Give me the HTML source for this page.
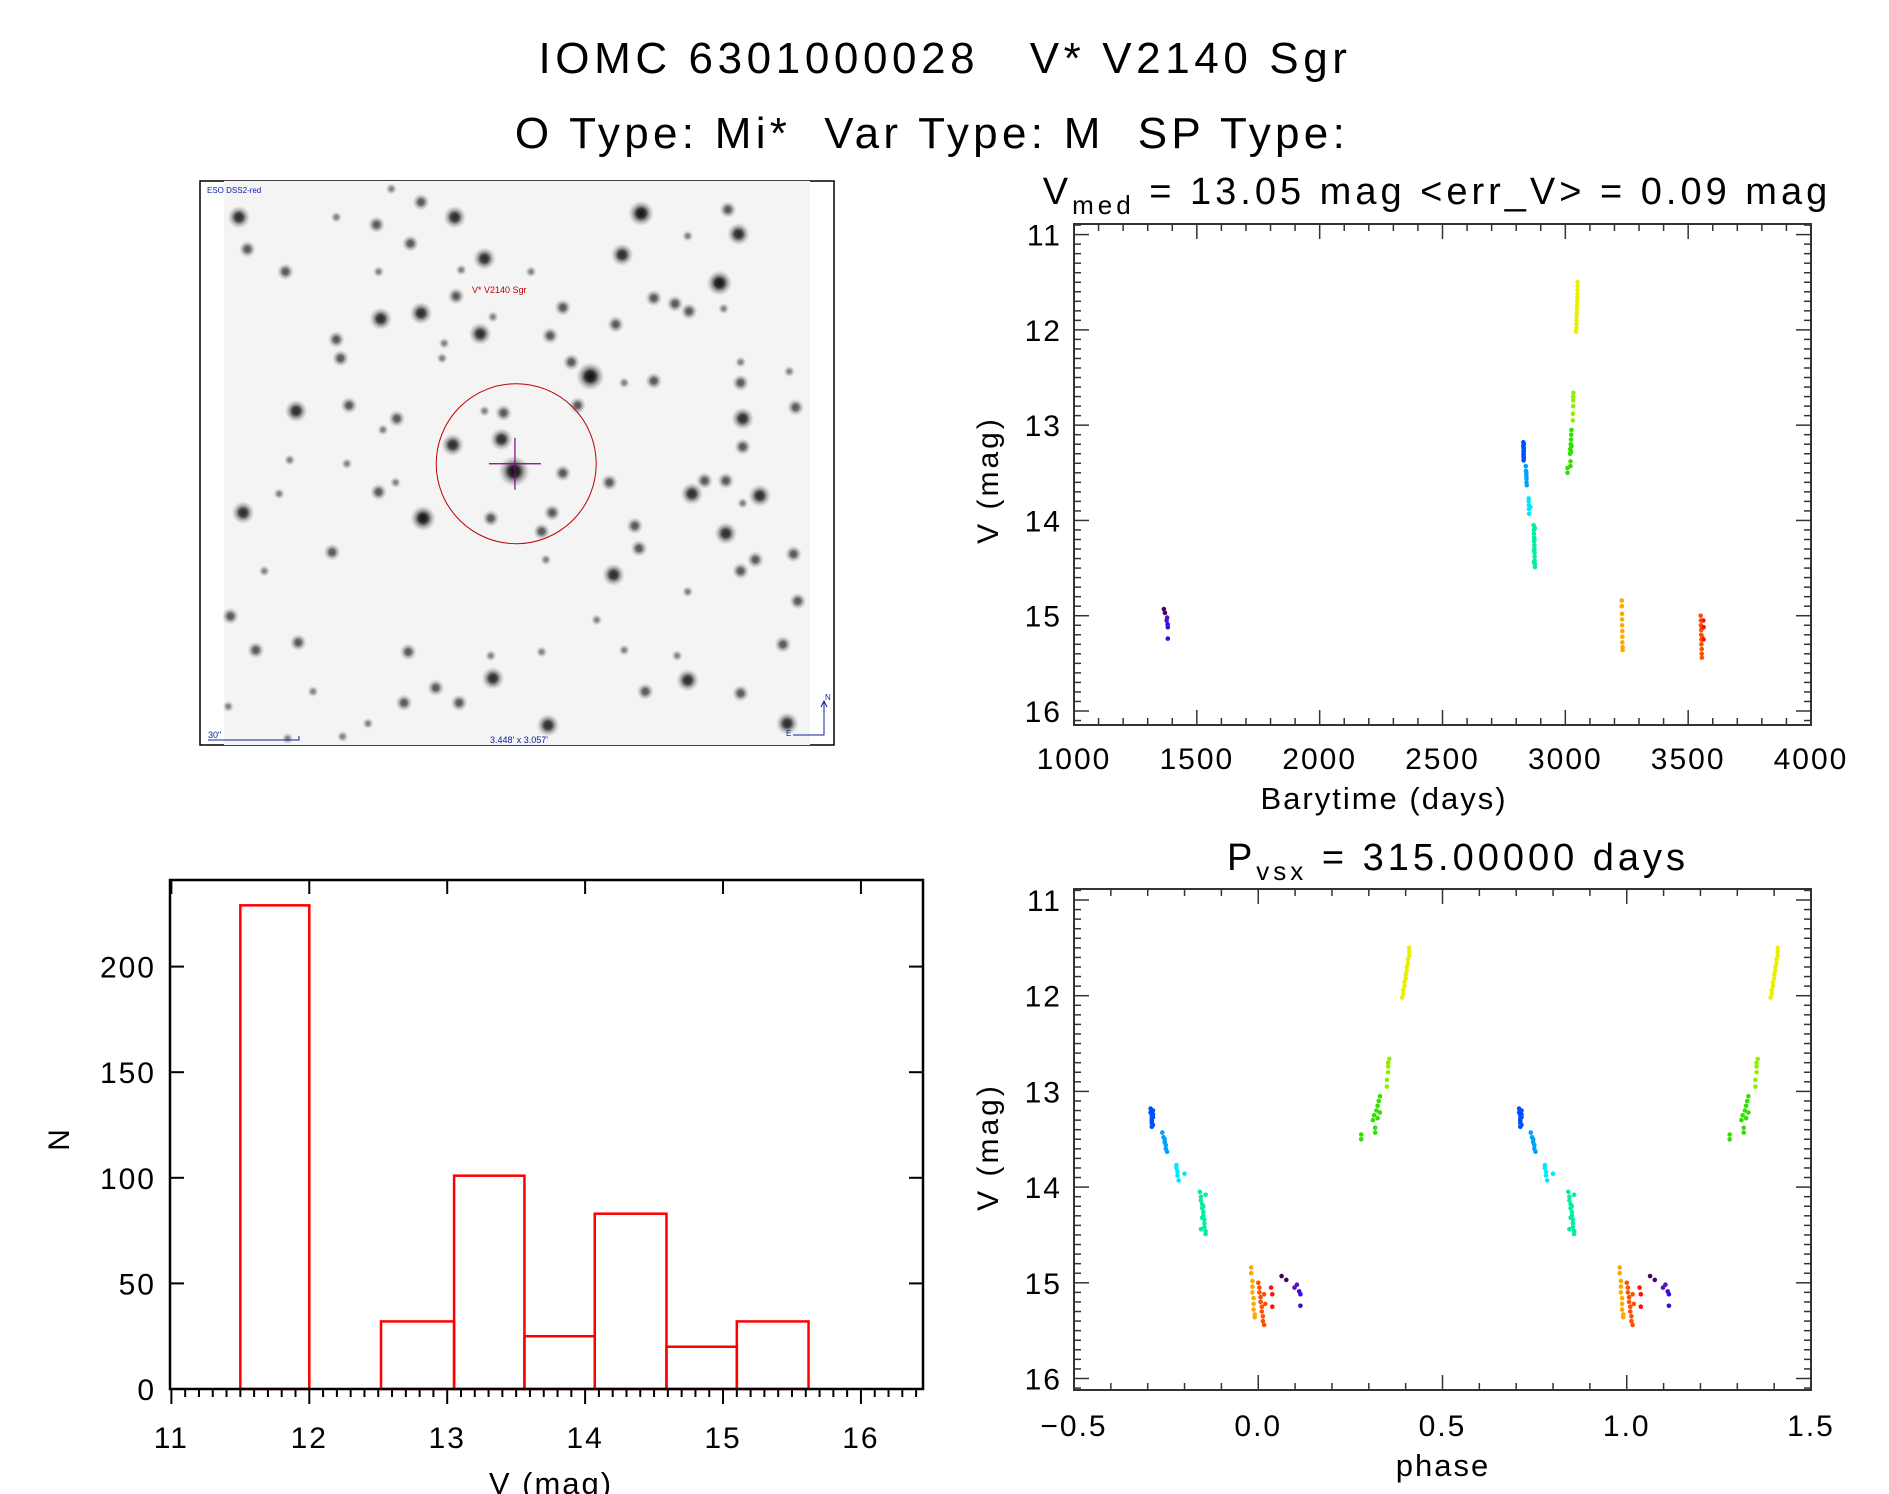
<!DOCTYPE html>
<html><head><meta charset="utf-8"><style>
html,body{margin:0;padding:0;background:#fff;}
svg{display:block;font-family:"Liberation Sans",sans-serif;}
</style></head><body>
<svg id="fig" width="1889" height="1494" viewBox="0 0 1889 1494" xmlns="http://www.w3.org/2000/svg">
<defs>
<radialGradient id="starg"><stop offset="0" stop-color="#000"/><stop offset="0.35" stop-color="#222"/><stop offset="0.7" stop-color="#777" stop-opacity="0.5"/><stop offset="1" stop-color="#999" stop-opacity="0"/></radialGradient>
</defs>
<text x="945" y="73" font-size="44" letter-spacing="4.6" text-anchor="middle" xml:space="preserve">IOMC 6301000028   V* V2140 Sgr</text>
<text x="932" y="148" font-size="44" letter-spacing="4.3" text-anchor="middle" xml:space="preserve">O Type: Mi*  Var Type: M  SP Type:</text>
<g id="img"></g>
<g id="lc"></g>
<g id="ph"></g>
<g id="hist"></g>
</svg>
<script>
// ---- light curve data (barytime days, V mag, color group) ----
const times = [1366,1370,1377,1379,1381,1382,1382,
 2829,2829,2830,2830,2830,2830,2831,2831,2831,2831,2830,2830,
 2839,2840,2841,2841,2842,2842,2843,
 2851,2851,2852,2852,2853,2858,
 2871,2872,2872,2873,2873,2874,2874,2875,2875,2875,2876,2876,2876,2874,2873,2872,
 3009,3009,3019,3020,3021,3022,3023,3024,3025,3025,3021,3023,
 3031,3031,3032,3032,3032,3033,
 3044,3045,3045,3046,3046,3047,3047,3048,3048,3049,3049,3050,3050,3050,
 3230,3230,3231,3231,3231,3232,3232,3232,3233,3233,
 3551,3552,3552,3553,3553,3554,3554,3555,3555,3556,3556,3557,3562,3563,3563];
const mags = [14.93,14.97,15.05,15.02,15.09,15.12,15.24,
 13.18,13.22,13.25,13.28,13.3,13.33,13.2,13.24,13.27,13.35,13.37,13.31,
 13.43,13.48,13.5,13.53,13.56,13.6,13.63,
 13.77,13.8,13.84,13.88,13.93,13.86,
 14.05,14.1,14.14,14.18,14.22,14.26,14.3,14.34,14.38,14.42,14.46,14.49,14.08,14.2,14.32,14.44,
 13.45,13.5,13.3,13.25,13.38,13.2,13.15,13.1,13.05,13.22,13.43,13.28,
 12.95,12.88,12.8,12.74,12.7,12.66,
 12.02,11.98,11.94,11.9,11.86,11.82,11.78,11.74,11.7,11.66,11.62,11.58,11.54,11.5,
 14.84,14.9,14.98,15.04,15.1,15.16,15.22,15.28,15.33,15.36,
 15.0,15.05,15.1,15.15,15.2,15.25,15.3,15.35,15.4,15.44,15.12,15.22,15.05,15.12,15.25];
const groups = [0,0,1,1,2,2,2,
 3,3,3,3,3,3,3,3,3,3,3,3,
 4,4,4,4,4,4,4,
 5,5,5,5,5,5,
 6,6,6,6,6,6,6,6,6,6,6,6,6,6,6,6,
 7,7,7,7,7,7,7,7,7,7,7,7,
 8,8,8,8,8,8,
 9,9,9,9,9,9,9,9,9,9,9,9,9,9,
 10,10,10,10,10,10,10,10,10,10,
 11,11,11,11,11,11,11,11,11,11,11,11,12,12,12];
const groupColors = ['#4a0060','#5a10c0','#3010e0','#0050ff','#00a0ff','#00e8ff','#00f0a0','#30e000','#90f000','#e8f000','#ffa800','#ff5000','#ff1010'];
const period = 315.0;
const epoch = 2606;
// ---- histogram data ----
const binEdges = [11.5,12.0,12.52,13.05,13.56,14.07,14.59,15.1,15.62];
const binCounts = [229,0,32,101,25,83,20,32];
const histXTicks = ['11','12','13','14','15','16'];
const histYTicks = ['0','50','100','150','200'];
const lcXTicks = ['1000','1500','2000','2500','3000','3500','4000'];
const magTicks = ['11','12','13','14','15','16'];
const phaseTicks = ['−0.5','0.0','0.5','1.0','1.5'];

const NS='http://www.w3.org/2000/svg';
function mk(parent,tag,attrs,text){const e=document.createElementNS(NS,tag);for(const k in attrs)e.setAttribute(k,attrs[k]);if(text!==undefined)e.textContent=text;parent.appendChild(e);return e;}

// ---------- finder image ----------
(function(){
 const g=document.getElementById('img');
 const sx=0.978, sy=0.99;
 const IX=xd=>200+(xd/2.31-10)*sx, IY=yd=>181+(yd/2.63-11)*sy;
 let e=mk(g,'rect',{x:200,y:181,width:634,height:564,fill:'none',stroke:'#000','stroke-width':1.5});
 
 e=mk(g,'rect',{x:224,y:181,width:586,height:564,fill:'#f4f4f4'});
 
 const stars=[[115,125,3],[135,210,2],[225,270,2],[345,125,1],[440,145,2],[475,50,1],[545,85,2],[520,195,2],[625,125,3],[695,235,3],[640,265,1],[445,270,1],[628,335,2],[545,380,3],[450,395,3],[345,450,2],[355,500,2],[685,435,3],[715,390,1],[600,460,1],[595,500,1],[880,365,2],[850,440,2],[805,270,1],[1065,115,3.5],[1270,105,2],[1295,170,3],[1020,225,3],[1175,175,1],[1250,300,3.5],[1095,340,2],[1145,355,2],[1178,375,2],[1005,410,2],[1260,368,1],[900,510,2],[945,548,4],[1025,565,1],[1095,560,2],[1300,510,1],[1300,565,2],[1415,535,1],[1430,630,2],[1305,660,3],[1305,735,2],[250,640,3],[375,625,2],[488,660,2],[455,690,1],[740,645,2],[695,640,1],[735,715,3],[620,730,3],[765,800,4.5],[880,805,2],[915,625,2],[990,830,2],[1215,825,2],[1265,825,2],[1185,860,3],[1345,865,3],[1305,885,1],[445,855,2],[485,830,1],[235,770,1],[370,780,1],[125,910,3],[210,860,1],[550,925,3.5],[710,925,2],[855,910,2],[830,960,2],[1050,945,2],[1265,965,3],[1060,1005,2],[1425,1020,2],[1335,1035,2],[1300,1065,2],[1000,1075,3],[840,1035,1],[335,1015,2],[175,1065,1],[95,1185,2],[155,1275,2],[255,1255,2],[515,1280,2],[710,1290,1],[830,1280,1],[715,1350,3],[580,1375,2],[1025,1275,1],[1150,1290,1],[1175,1355,3],[1400,1260,2],[1435,1145,2],[1175,1120,1],[960,1195,1],[1075,1385,2],[1300,1390,2],[1410,1470,3],[845,1475,3],[635,1415,2],[505,1415,2],[420,1470,1],[90,1425,1],[290,1385,1],[360,1505,1],[230,1510,1]];
 stars.forEach(s=>{
  const c=mk(g,'circle',{cx:IX(s[0]).toFixed(1),cy:IY(s[1]).toFixed(1),r:(s[2]*2.8+3).toFixed(1),fill:'url(#starg)',opacity:Math.min(0.95,0.3+s[2]*0.18)});
  
  
 });
 e=mk(g,'circle',{cx:IX(770),cy:IY(780),r:80,fill:'none',stroke:'#c00000','stroke-width':1});
 
 const cx=IX(767),cy=IY(780);
 e=mk(g,'path',{d:`M${cx-26} ${cy}H${cx+26}M${cx} ${cy-26}V${cy+26}`,stroke:'#8a0080','stroke-width':1.2});
 
 e=mk(g,'text',{x:207,y:193,'font-size':8,fill:'#1020a0'},'ESO DSS2-red');
 
 e=mk(g,'text',{x:472,y:293,'font-size':9,fill:'#c00000'},'V* V2140 Sgr');
 
 e=mk(g,'text',{x:208,y:738,'font-size':9,fill:'#1020a0'},'30"');
 
 e=mk(g,'path',{d:'M208 740H299V736',stroke:'#1020a0','stroke-width':1,fill:'none'});
 
 e=mk(g,'text',{x:490,y:743,'font-size':9,fill:'#1020a0'},"3.448' x 3.057'");
 
 e=mk(g,'path',{d:'M793 735H824V702M821 707L824 701L827 707',stroke:'#1020a0','stroke-width':1,fill:'none'});
 
 e=mk(g,'text',{x:825,y:700,'font-size':8,fill:'#1020a0'},'N');
 
 e=mk(g,'text',{x:786,y:736,'font-size':8,fill:'#1020a0'},'E');
 
})();

function axesFrame(g,L,R,T,B,stroke,sw){
 const e=mk(g,'rect',{x:L,y:T,width:R-L,height:B-T,fill:'none',stroke:stroke,'stroke-width':sw});
 
 
}

function magAxis(g,L,R,T,B,Y,label,ycenter){
 for(let m=108;m<=162;m++){const v=m/10;const y=Y(v);if(y<T||y>B)continue;const major=(m%10===0);const len=major?15:7;
  mk(g,'line',{x1:L,x2:L+len,y1:y,y2:y,stroke:'#333','stroke-width':1.5});
  mk(g,'line',{x1:R,x2:R-len,y1:y,y2:y,stroke:'#333','stroke-width':1.5});}
 magTicks.forEach(t=>{const e=mk(g,'text',{x:L-12,y:Y(+t)+11,'font-size':30,'letter-spacing':2,'text-anchor':'end'},t);
  });
 const e=mk(g,'text',{x:0,y:0,'font-size':30,'letter-spacing':3,'text-anchor':'middle',transform:`translate(998,${ycenter}) rotate(-90)`},'V  (mag)');
 e.setAttribute('xml:space','preserve');
 
}

// ---------- light curve ----------
(function(){
 const g=document.getElementById('lc');
 const L=1074,R=1811,T=224,B=725;
 const X=t=>L+(t-1000)/3000*(R-L);
 const Y=v=>234.6+(v-11)*(711-234.6)/5;
 axesFrame(g,L,R,T,B,'#333',2);
 for(let t=1000;t<=4000;t+=100){const x=X(t);const len=(t%500===0)?15:7;
  mk(g,'line',{x1:x,x2:x,y1:B,y2:B-len,stroke:'#333','stroke-width':1.5});
  mk(g,'line',{x1:x,x2:x,y1:T,y2:T+len,stroke:'#333','stroke-width':1.5});}
 lcXTicks.forEach(t=>{const e=mk(g,'text',{x:X(+t),y:769,'font-size':30,'letter-spacing':2,'text-anchor':'middle'},t);
  });
 magAxis(g,L,R,T,B,Y,'V (mag)',480);
 let e=mk(g,'text',{x:1384,y:809,'font-size':31,'letter-spacing':2,'text-anchor':'middle','xml:space':'preserve'},'Barytime  (days)');
 
 e=mk(g,'text',{x:1437,y:204,'font-size':38,'letter-spacing':4,'text-anchor':'middle','xml:space':'preserve'});
 e.innerHTML='V<tspan font-size="26" dy="10">med</tspan><tspan dy="-10">  =  13.05  mag  &lt;err_V&gt;  =  0.09  mag</tspan>';
 
 times.forEach((t,i)=>{const c=mk(g,'circle',{cx:X(t).toFixed(1),cy:Y(mags[i]).toFixed(1),r:2.3,fill:groupColors[groups[i]]});
  
  });
})();

// ---------- phase plot ----------
(function(){
 const g=document.getElementById('ph');
 const L=1074,R=1811,T=889,B=1390;
 const X=p=>L+(p+0.5)/2*(R-L);
 const Y=v=>900+(v-11)*(1378.5-900)/5;
 axesFrame(g,L,R,T,B,'#333',2);
 for(let k=-5;k<=15;k++){const x=X(k/10);const len=(k%5===0)?15:7;
  mk(g,'line',{x1:x,x2:x,y1:B,y2:B-len,stroke:'#333','stroke-width':1.5});
  mk(g,'line',{x1:x,x2:x,y1:T,y2:T+len,stroke:'#333','stroke-width':1.5});}
 phaseTicks.forEach((t,i)=>{const e=mk(g,'text',{x:X(-0.5+i*0.5),y:1436,'font-size':30,'letter-spacing':2,'text-anchor':'middle'},t);
  });
 magAxis(g,L,R,T,B,Y,'V (mag)',1147);
 let e=mk(g,'text',{x:1443,y:1476,'font-size':31,'letter-spacing':2,'text-anchor':'middle'},'phase');
 
 e=mk(g,'text',{x:1458,y:870,'font-size':38,'letter-spacing':4,'text-anchor':'middle','xml:space':'preserve'});
 e.innerHTML='P<tspan font-size="26" dy="10">vsx</tspan><tspan dy="-10">  =  315.00000  days</tspan>';
 
 times.forEach((t,i)=>{let p=((t-epoch)/period)%1;if(p<0)p+=1;if(p>=0.5)p-=1;
  [p,p+1].forEach(q=>{const c=mk(g,'circle',{cx:X(q).toFixed(1),cy:Y(mags[i]).toFixed(1),r:2.3,fill:groupColors[groups[i]]});
   
   });});
})();

// ---------- histogram ----------
(function(){
 const g=document.getElementById('hist');
 const L=170,R=923,T=880,B=1389;
 const X=v=>L+(v-10.99)/(16.45-10.99)*(R-L);
 const Y=n=>B-n/241*(B-T);
 binCounts.forEach((n,i)=>{const x0=X(binEdges[i]),x1=X(binEdges[i+1]);
  const r=mk(g,'rect',{x:x0,y:Y(n),width:x1-x0,height:B-Y(n),fill:'none',stroke:'#f00','stroke-width':2.5});
  
  });
 axesFrame(g,L,R,T,B,'#000',2.5);
 for(let k=110;k<=164;k++){const x=X(k/10);if(x>R)continue;const major=(k%10===0);
  mk(g,'line',{x1:x,x2:x,y1:B,y2:B+(major?15:8),stroke:'#000','stroke-width':2});
  if(major)mk(g,'line',{x1:x,x2:x,y1:T,y2:T+14,stroke:'#000','stroke-width':2});}
 histXTicks.forEach(t=>{const e=mk(g,'text',{x:X(+t),y:1448,'font-size':30,'letter-spacing':2,'text-anchor':'middle'},t);
  });
 histYTicks.forEach(t=>{const y=Y(+t);
  mk(g,'line',{x1:L,x2:L+14,y1:y,y2:y,stroke:'#000','stroke-width':2});
  mk(g,'line',{x1:R,x2:R-14,y1:y,y2:y,stroke:'#000','stroke-width':2});
  const e=mk(g,'text',{x:156,y:y+11,'font-size':30,'letter-spacing':2,'text-anchor':'end'},t);
  });
 let e=mk(g,'text',{x:551,y:1494,'font-size':31,'letter-spacing':2,'text-anchor':'middle','xml:space':'preserve'},'V  (mag)');
 
 e=mk(g,'text',{x:0,y:0,'font-size':30,'text-anchor':'middle',transform:'translate(69,1140) rotate(-90)'},'N');
 
})();
</script>
</body></html>
